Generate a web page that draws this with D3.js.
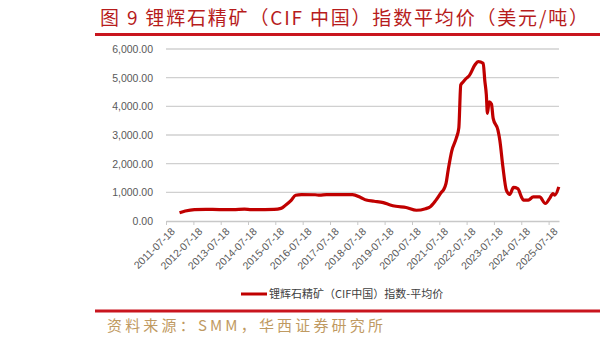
<!DOCTYPE html>
<html>
<head>
<meta charset="utf-8">
<script src="https://cdn.jsdelivr.net/npm/d3@7"></script>
<style>
  body { margin: 0; background: #fff; }
  svg { display: block; }
</style>
</head>
<body>
<div id="chart"></div>
<script>
// values (USD/t)
var dates = [
  "2012-01-15","2012-04-01","2012-08-01","2013-01-01","2013-07-01","2014-01-01","2014-06-01","2014-09-01",
  "2015-03-01","2015-07-01","2015-10-01","2015-12-01","2016-02-15","2016-04-15","2016-07-01","2017-01-01",
  "2017-03-01","2017-06-01","2018-01-01","2018-05-15","2018-09-01","2018-11-15","2019-03-01","2019-07-01",
  "2019-10-01","2019-12-15","2020-05-01","2020-09-15","2021-01-15","2021-03-15","2021-06-01","2021-08-15",
  "2021-09-15","2021-10-15","2021-11-15","2022-01-01","2022-03-01","2022-04-05","2022-05-01","2022-06-01",
  "2022-07-15","2022-08-25","2022-11-05","2022-12-20","2023-02-25","2023-03-18","2023-04-08","2023-04-22",
  "2023-05-15","2023-06-15","2023-07-08","2023-09-10","2023-10-05","2023-11-15","2024-01-01","2024-02-15",
  "2024-04-05","2024-06-01","2024-07-20","2024-08-15","2024-10-20","2024-12-25","2025-03-20","2025-06-05",
  "2025-08-01","2025-09-15","2025-10-10","2025-12-01"
];
var prices = [
  290, 350, 400, 405, 400, 400, 415, 400,
  400, 405, 440, 550, 720, 900, 920, 915,
  900, 920, 920, 920, 820, 730, 690, 640,
  560, 515, 470, 375, 430, 490, 720, 1000,
  1100, 1300, 1800, 2450, 2880, 3250, 4750, 4850,
  4980, 5080, 5440, 5560, 5500, 4900, 4395, 3755,
  4160, 4080, 3580, 3170, 2820, 1890, 1070, 930,
  1170, 1130, 840, 730, 730, 840, 840, 610,
  790, 960, 900, 1190
];
var yTicks = [0, 1000, 2000, 3000, 4000, 5000, 6000];
var tickYears = d3.range(2011, 2026);

var titleText = "图 9 锂辉石精矿（CIF 中国）指数平均价（美元/吨）";
var legendText = "锂辉石精矿（CIF中国）指数-平均价";
var sourceText = "资料来源：SMM，华西证券研究所";

var width = 600, height = 345;
var parse = d3.timeParse("%Y-%m-%d");
var data = dates.map(function (d, i) { return { date: parse(d), value: prices[i] }; });

var svg = d3.select("#chart").append("svg")
    .attr("width", width)
    .attr("height", height);

var x = d3.scaleTime()
    .domain([new Date(2011, 6, 18), new Date(2025, 11, 4)])
    .range([166, 559]);
var y = d3.scaleLinear().domain([0, 6000]).range([221, 49]);

// title + red rules
svg.append("text")
    .attr("x", 100).attr("y", 25)
    .attr("font-family", "Noto Sans CJK SC")
    .attr("font-size", 19)
    .attr("fill", "#b71c1c")
    .attr("textLength", 488)
    .attr("lengthAdjust", "spacing")
    .text(titleText);
svg.append("rect").attr("x", 95).attr("y", 33).attr("width", 505).attr("height", 3).attr("fill", "#c9151e");
svg.append("rect").attr("x", 95).attr("y", 309.5).attr("width", 505).attr("height", 3).attr("fill", "#c9151e");

// gridlines
svg.append("g").selectAll("line")
    .data(yTicks.slice(1))
    .enter().append("line")
    .attr("x1", 166).attr("x2", 559)
    .attr("y1", function (d) { return y(d); })
    .attr("y2", function (d) { return y(d); })
    .attr("stroke", "#d0d0d0")
    .attr("stroke-width", 1.3);

// y axis labels
var yAxis = svg.append("g")
    .attr("transform", "translate(166,0)")
    .call(d3.axisLeft(y).tickValues(yTicks).tickSize(0).tickPadding(13).tickFormat(d3.format(",.2f")));
yAxis.select(".domain").remove();
yAxis.selectAll("text")
    .attr("font-family", "Liberation Sans, Arial")
    .attr("font-size", 10.5)
    .attr("fill", "#595959");

// x axis
var xAxis = svg.append("g")
    .attr("transform", "translate(0," + y(0) + ")")
    .call(d3.axisBottom(x)
        .tickValues(tickYears.map(function (yr) { return new Date(yr, 6, 18); }))
        .tickSize(4)
        .tickSizeOuter(0)
        .tickFormat(d3.timeFormat("%Y-%m-%d")));
xAxis.select(".domain").attr("stroke", "#c8c8c8").attr("stroke-width", 1.3);
xAxis.selectAll(".tick line").attr("stroke", "#c8c8c8");
xAxis.selectAll("text")
    .attr("font-family", "Liberation Sans, Arial")
    .attr("font-size", 10.5)
    .attr("fill", "#595959")
    .attr("text-anchor", "end")
    .attr("dy", "0.3em")
    .attr("transform", "translate(2,4) rotate(-45)");

// series
var line = d3.line()
    .x(function (d) { return x(d.date); })
    .y(function (d) { return y(d.value); })
    .curve(d3.curveMonotoneX);
svg.append("path")
    .datum(data)
    .attr("fill", "none")
    .attr("stroke", "#c00000")
    .attr("stroke-width", 3.2)
    .attr("stroke-linejoin", "round")
    .attr("d", line);

// legend
svg.append("line")
    .attr("x1", 241).attr("x2", 267)
    .attr("y1", 294).attr("y2", 294)
    .attr("stroke", "#c00000").attr("stroke-width", 3);
svg.append("text")
    .attr("x", 269).attr("y", 298)
    .attr("font-family", "Noto Sans CJK SC")
    .attr("font-size", 11)
    .attr("fill", "#404040")
    .text(legendText);

// source
svg.append("text")
    .attr("x", 107).attr("y", 331)
    .attr("font-family", "Noto Sans CJK SC")
    .attr("font-size", 15)
    .attr("fill", "#bf9a62")
    .attr("textLength", 276)
    .attr("lengthAdjust", "spacing")
    .text(sourceText);
</script>
</body>
</html>
